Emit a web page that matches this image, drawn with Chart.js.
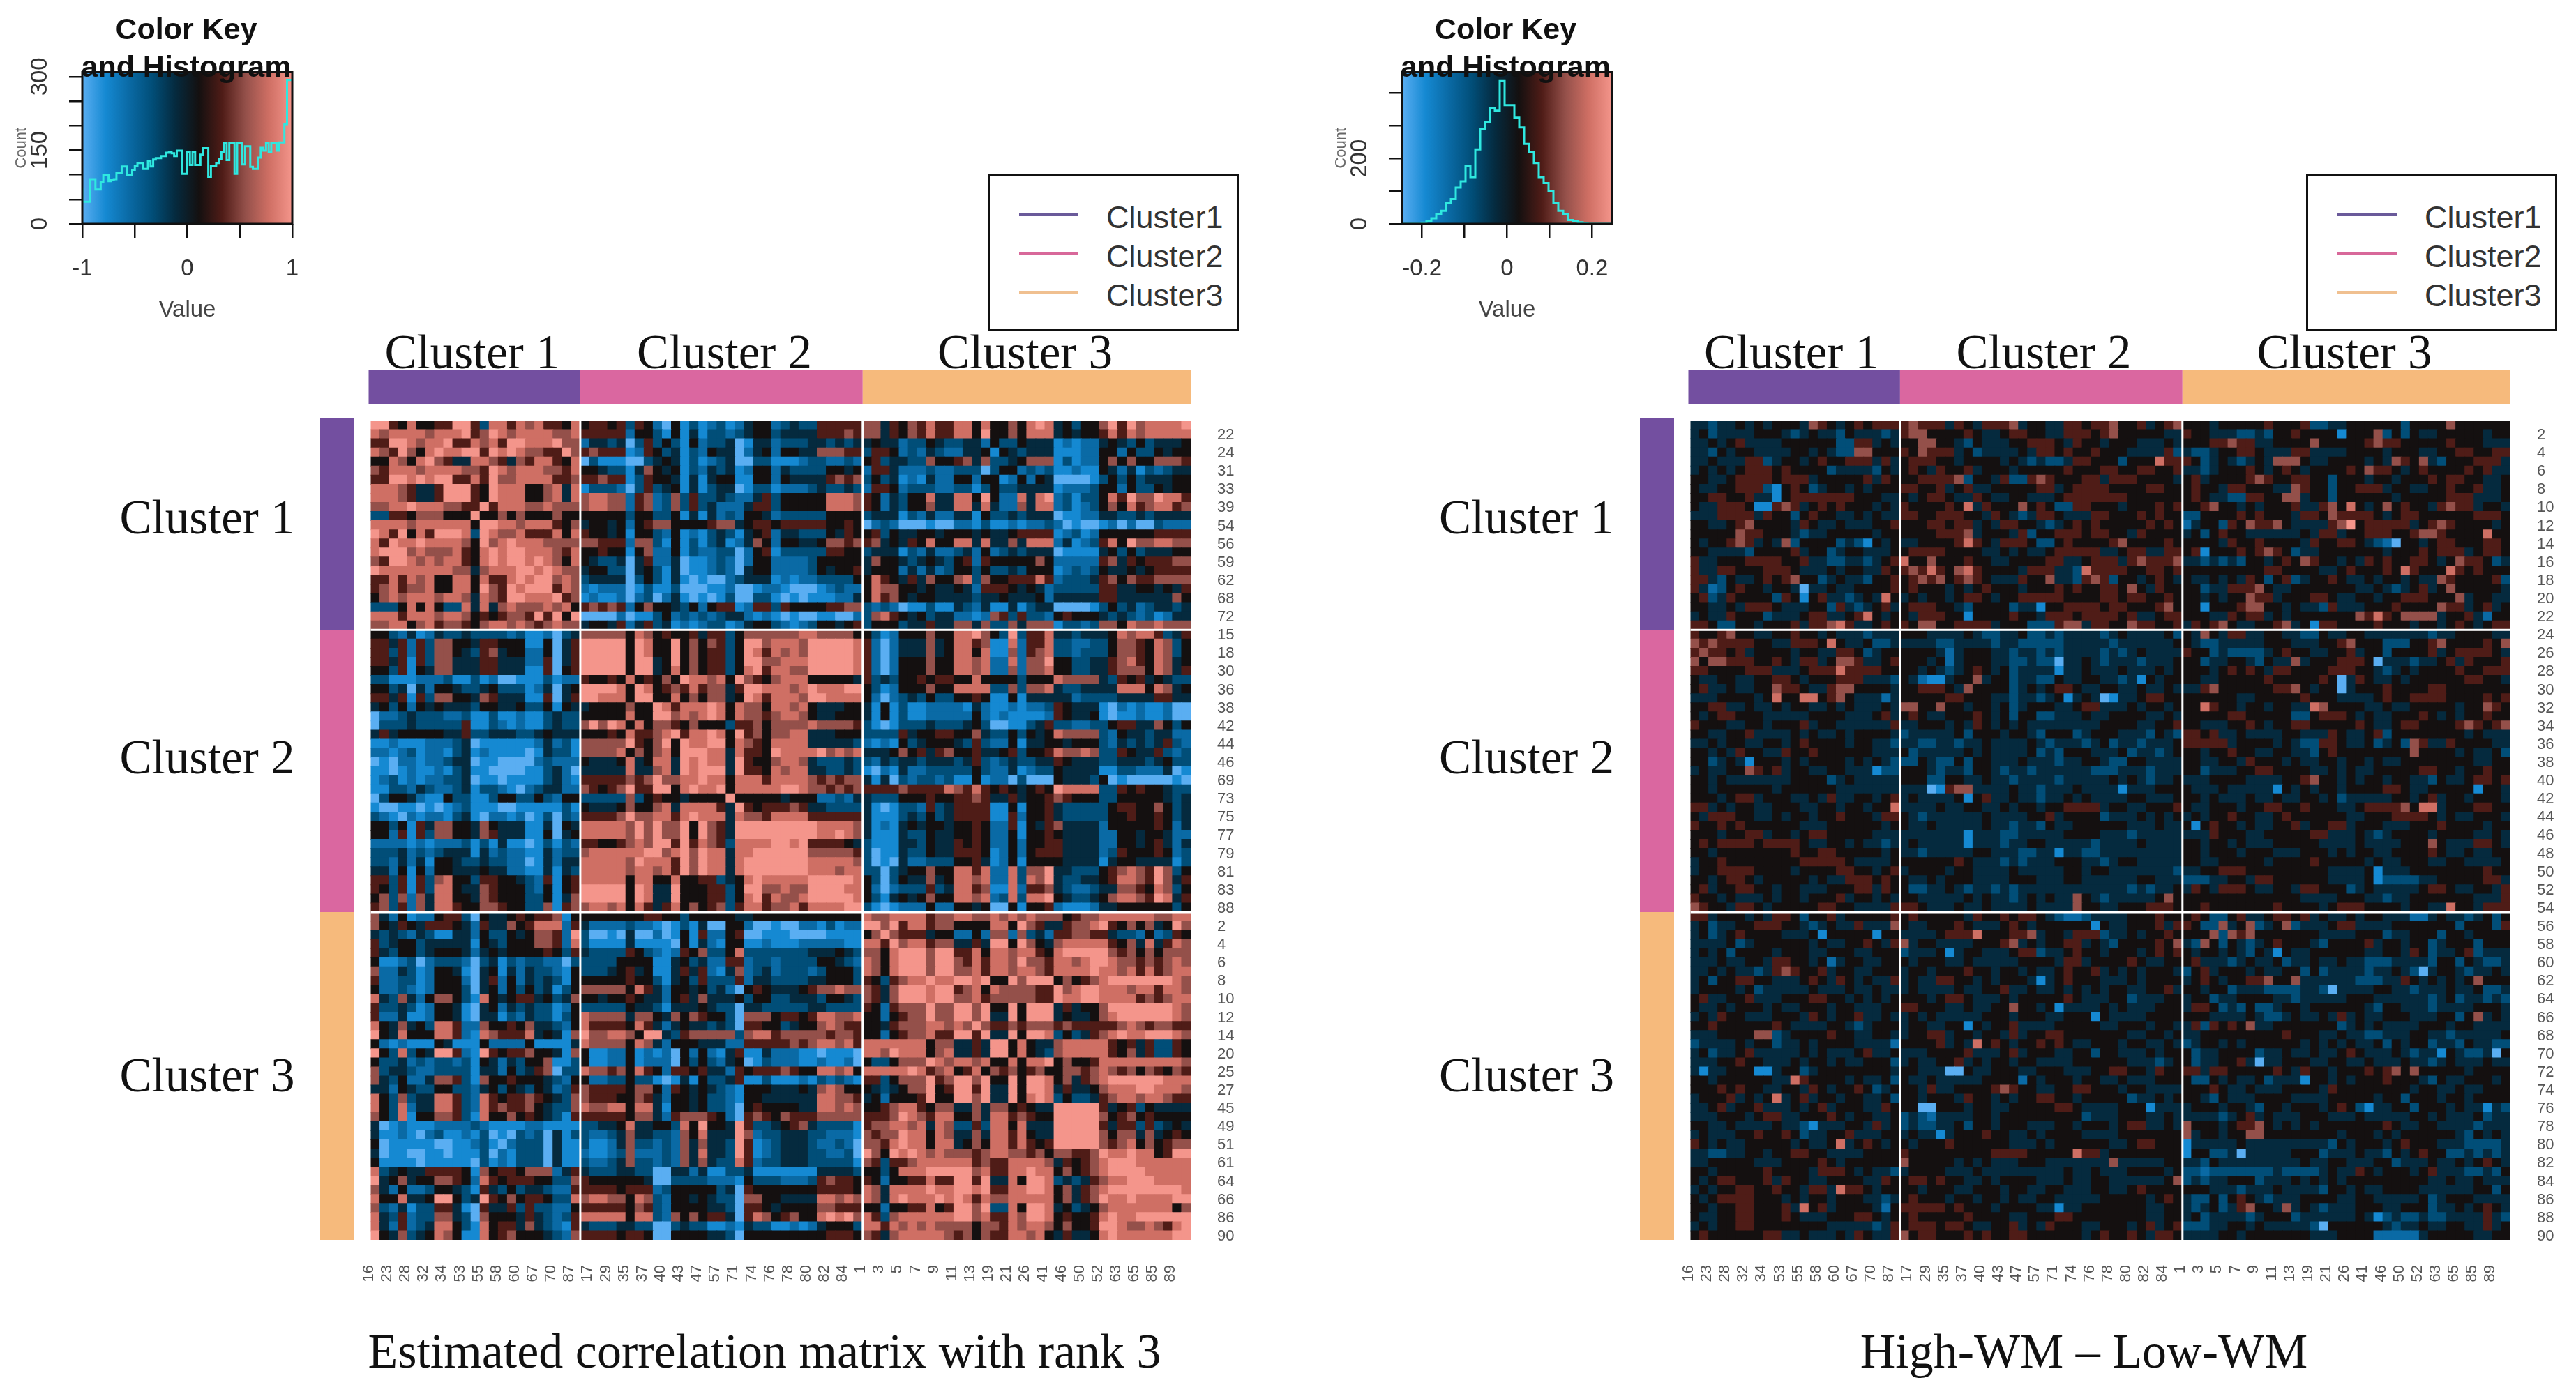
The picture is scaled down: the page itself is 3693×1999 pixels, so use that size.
<!DOCTYPE html>
<html>
<head>
<meta charset="utf-8">
<title>Estimated correlation matrix with rank 3 / High-WM – Low-WM</title>
<script src="https://cdn.jsdelivr.net/npm/chart.js@4"></script>
<style>
html, body { margin: 0; background: #fff; overflow: hidden; }
#page { position: relative; width: 3693px; height: 1999px; }
canvas { position: absolute; filter: blur(0.6px); }
.txt { position: absolute; white-space: nowrap; transform: translate(-50%, -50%); line-height: 1; }
.serif { font-family: "Liberation Serif", serif; color: #111; }
.bold { font-family: "Liberation Sans", sans-serif; font-weight: bold; color: #111; }
.legend { position: absolute; width: 360px; height: 225px; border: 3px solid #111; box-sizing: border-box; }
.legend i { position: absolute; left: 42px; width: 85px; height: 5px; }
.legend span { position: absolute; left: 167px; font: 45px "Liberation Sans", sans-serif; color: #333; line-height: 1; }
</style>
</head>
<body>
<div id="page"></div>
<script>
// cluster sizes and names
const clusterNames = ["Cluster 1", "Cluster 2", "Cluster 3"];
const clusterSizes = [23, 31, 36];
const clusterColors = ["#734fa0", "#da67a0", "#f6ba7c"];
const legendNames = ["Cluster1", "Cluster2", "Cluster3"];
const legendColors = ["#6a5a9a", "#d8689a", "#f0c090"];

// axis labels, every second region gets a label
const colLabels = ["16","23","28","32","34","53","55","58","60","67","70","87","17","29","35","37","40","43","47","57","71","74","76","78","80","82","84","1","3","5","7","9","11","13","19","21","26","41","46","50","52","63","65","85","89"];
const rowLabelsCorr = ["22","24","31","33","39","54","56","59","62","68","72","15","18","30","36","38","42","44","46","69","73","75","77","79","81","83","88","2","4","6","8","10","12","14","20","25","27","45","49","51","61","64","66","86","90"];
const rowLabelsDiff = ["2","4","6","8","10","12","14","16","18","20","22","24","26","28","30","32","34","36","38","40","42","44","46","48","50","52","54","56","58","60","62","64","66","68","70","72","74","76","78","80","82","84","86","88","90"];

// colour levels 0..9 used in the rows below, blue -> black -> salmon
const levelColors = ["#5aaef2","#1589d2","#0a6aa5","#014e78","#052a3e","#141010","#4f1c17","#94504a","#cf6f64","#f4958b"];

// histogram counts
const histCorrCounts = [73,45,45,45,91,91,70,70,85,100,100,87,89,91,104,104,117,117,99,99,110,118,124,124,112,112,127,117,131,134,134,138,138,145,147,144,138,149,149,102,102,147,120,147,120,120,141,154,154,96,118,118,124,133,147,164,130,164,164,102,164,164,121,158,158,116,112,112,135,155,149,164,147,164,164,149,166,166,203,293];
const histDiffCounts = [0,0,0,0,0,4,8,17,30,40,63,76,111,130,177,143,228,291,312,354,346,437,363,363,325,295,245,220,186,143,125,100,65,40,30,12,8,5,2,0,0,0,0];
const keyCorrTicksX = [-1,-0.5,0,0.5,1];
const keyCorrLabelsX = ["-1","","0","","1"];
const keyCorrTicksY = [0,50,100,150,200,250,300];
const keyCorrLabelsY = ["0","","","150","","","300"];
const keyDiffTicksX = [-0.2,-0.1,0,0.1,0.2];
const keyDiffLabelsX = ["-0.2","","0","","0.2"];
const keyDiffTicksY = [0,100,200,300,400];
const keyDiffLabelsY = ["0","","200","",""];

// left matrix, one row per string, blocks split by |
const corrRows = [
"99658556699638868786658|5665636520513123124552343366666|774657686688585575898453557969788889",
"87888878889679878888778|6666625531514133234553444466676|774657686688595575888454556868788888",
"66998788966878699888977|2443403635315233401442333443434|454423354334425335444121224543534445",
"87697589889969898776697|6766612653413254402452554477766|366523243224451543444111225525335455",
"55875897644887647688658|0311100345413123400331112332232|563443375567473345777131225757557776",
"76888788887769878887768|5543314754513243412552433335545|266422232233303552323112115424132344",
"66998989966869778888667|6676613655414145511552544446767|353412142255255125254000013535344455",
"88876446999659888557848|1333203634514134401331222343343|266523332233135334444122235525335455",
"88876446999659888557848|7887726723736334322463555558887|652435584488595228489231335869779886",
"77889888776696888778777|7887726723736342224663555558887|652435574488484227488231235758678867",
"33665777555955757555755|5555535533514142325542333335555|344413242244153343444011224433434444",
"88887888888599887888657|4554525677555567745665666665565|023200010022131121223201001202003222",
"98695869998398778666858|6554515532512134314562443335465|563544554555454456666123125555556666",
"86988988887597898887777|7766627731513134124752554457767|674546585588484474888241236859778877",
"89997877786589899888768|5565515722513223302561333336655|344413242234252343444011114535344455",
"76998787886589899898758|5433404622401123202552222355555|475543454356265555575222226746566677",
"98888888877478889989877|4553304531401123204552222354556|455524242355353343555123235445456666",
"66868785588586689899787|3444403531410100234441212233335|586546475578375566686233346757667777",
"67867785588597698999687|2122201311300011200122100012322|587755454454266654542333336644554546",
"57878887887487699888967|1211202302410101300331010111224|586754554444344544452444446644444475",
"33358585338484787778785|6767625755435256612663655556677|323201131143241141344000013534234434",
"88868887887565677696959|0000201135232323442121010011002|378654534422127636332565554343231244",
"77885786776578878767877|4554624634121233124553212355456|355534464477473374777133237758778777",
"55324124334333323112034|7777758756556466357777778877775|531255575588975393668443444587886346",
"66462637755466555115046|9999959855957576359978887999998|620244474588671182668332233577658735",
"66362637754367455225046|9999959855957566359868787999998|620244474588581172678332333577658735",
"66461637744466444226046|9999959945957566359977888999998|620255575588782282779553344678658745",
"55361547744466444116056|9999959945857566358968877999998|620255575588782272778553344677758746",
"33111222311312001113122|6556585657598878597657888555554|634355656655855553555877774365645433",
"55340425543345333124045|9999859856768677469988878988899|531255575588883373778433444488858745",
"66461637755476444116046|9988859955857577459868887998888|520234353355651151444442333344446644",
"45352545444355445335154|4555575598688898587758878544455|415131122221421121223654441021211200",
"02234333223113112113433|5555585599787898587767887544555|415131122222521211112654451011211200",
"03334333336113212113433|7979858577657555366757777877776|310133343334530011346332233566447535",
"46455555446334443345444|5556586678968898596757788444555|333364556655743353545877773254434422",
"11211122234011111124231|7777796579598899587658888444443|212153455543632251445545553243434632",
"22123122134121111014331|7777857578599988486659888897878|444575646755644563556877873365446323",
"01022122344011000023222|5444584588498988496557887433343|324344344434632343344654443344434533",
"11012112134110000113420|4444484478498999496658788443343|102142233333532241233544441133222401",
"12312122334011011113421|6666676797788988588868888767677|414032332311512203000544435010000010",
"11332432234133210234422|7656796699589889588888998776767|666676666876865654565988883365655433",
"03554211533113553353255|3333373565545555955555455522324|433355565566764464556765553355555434",
"10011010123111001111131|5444575578488886496566676443333|410133263466661151556433333566557534",
"32102122134102212013032|6666797788689888487768888666666|411134353466661162556433333556556534",
"55351647755475444114054|8888879797795976499999999988887|412145455455652261546744442555556524",
"55261637755476444115045|8888879797795976499999999988987|411143354455652251556544442255455422",
"22221212223131411013132|6655678799696876388889989666654|311144354465652252556644442255456424",
"33342323444142322114233|7888888997897988488999999777776|301143354466651252566644442365556523",
"33242415543343322014244|8888879888697988489999999888887|301042233355641251555544441455444413",
"44251525544454422114143|8888878878697988489999999888788|330345575588682283779443335678769735",
"66361637855366554326156|8888858855855663458988888999998|530354474588782283879433445688769746",
"65361638854476555325156|9999959844955566359977877999988|520233363488671182667432234477658735",
"57372748855476555335147|9999959844955566358968778999998|531454575588782383889543345788769846",
"67362748865577655337167|7887858646857567368867786888899|310122252255450051556211124455555535",
"74251225663054456566715|5555555665535555544555555555555|877888867788778787877756778888887788",
"75465466654264475688826|4222232210131400552001002213122|997968867755558859764467789657574597",
"43432431144253354577629|3001040020151622560011100001111|579766645522527727342667766433252365",
"63455344444154355577628|3111141111051421551121112222211|886978867744649959754788888657484687",
"64355345554245455556536|4333365321265733583333333444543|775899979966858878865899999767575777",
"51123023332034132332203|3333555511453422662332333355432|875899979976868879776887899877676787",
"72243125541045142433215|3334564511464621472342333235553|875899979977868878876888898878686788",
"62233125552046252434315|5555565531453633362443333445553|653678898899895597999575678999999987",
"52232125553045253534135|7777758642554534205654445677877|764799989967858777766978998887886887",
"84374257753185456645347|5545565442564744453553344435543|7647 9998 9977 8677 7776 6988 9988 8867 6788",
"63343125541045243433125|3333354431444543304433333443333|6526 7779 7799 7955 9599 9464 5579 9999 9987",
"62241125541044132433135|8777747754757655307775665688778|5525 6779 7799 7944 9599 9454 4578 9999 9987",
"85474538862275565744325|8666658642454434306655345578766|554677788787976676777676666678767766",
"95485558862187666845417|9778875994367777737886777776776|5525 6778 6699 6944 9599 8353 4678 9889 9987",
"52121115411152222511114|8777758742555444226666676788786|8888 8885 7744 6499 5854 4788 8886 5646 3365",
"95383549962196566755417|5112251212052521461142221101110|8879 8885 7844 6499 5854 3788 8886 5746 3365",
"53342323323154243557113|5112251222053532450132221121120|5335 7779 8788 7855 8588 9575 5688 8888 8887",
"73443223333144253467033|8776758652665644265666765588785|8888 8986 7856 8576 7567 5577 6787 6757 6576",
"74352247763175565554325|5223353310141533461131112132321|6635 7779 6799 7955 9599 8574 6789 9999 9888",
"44254335533245354354236|7666657752654543215554445478755|5434 5779 5699 6944 9599 8464 4578 8899 8887",
"85373448863286566765437|7666557642554533215544444488776|4525 5569 5599 7944 9589 8353 3467 8878 8766",
"85382448863286766754337|8778858841554533205655554488787|5567 8865 7744 7477 5654 4999 9964 5635 4444",
"75381557763185575654316|6666657742677765206765766677777|6667 9876 8855 7488 6765 5999 9975 6756 5555",
"40121112222321111221111|3344584455385955496334567433331|6778 8784 8733 6388 5844 4999 9964 6636 3454",
"41121023112130103230413|3223474433275844497233444332221|7677 9885 8744 7488 6854 4999 9975 7747 4565",
"50111110011231023330411|3112473323274744396123444322320|7768 9885 8845 7588 6865 6999 9976 7857 5677",
"40110011011130213330411|2112372223274844396123444332230|9759 8987 8777 6788 7767 5776 6798 8988 5699",
"51111011111031213330411|3223473323274743386233444333331|7636 6788 8888 6766 8888 7465 6789 9988 8888",
"83454466665175665777246|4333443300442411334111111144443|5535 8889 9999 7866 8898 8575 6789 9998 8888",
"94574557765286566655337|6555555400333322215333222367665|6525 5668 6699 6944 8599 8343 4678 8999 8888",
"74252235543164353443226|6666566623555553406555555566665|8748 8889 8899 8966 8899 8574 6789 9999 9998",
"85584459953496575665338|7887758732554543307755444488787|8748 9888 9898 6877 8888 8574 6798 8988 8899",
"73241336641064463633225|6666657632555544306654555577666|5525 5668 5699 7933 8599 8453 4578 8888 8857",
"84362337743075554643236|8888858832757566406875675589897|8637 8888 8899 7866 8799 8565 5689 8899 9999",
"84262348853185664743216|4333443300343311214331121245553|8868 7878 7777 5776 8788 7575 5699 8778 7689",
"95473458751185675554327|6666566500555544305555555556665|7647 8888 8767 5766 8878 5464 4589 8888 8899"
];

// right matrix, same layout, mostly noise around zero with a few strong cells
const diffRows = [
"44344 54545 55476 54565 666|67666 46546 66745 54466 56675 56456 7|55545 55556 55563 34455 55553 55557 55555 5",
"45344 44555 43454 43544 434|67755 55654 45665 54466 65675 55554 4|65544 43343 55655 55155 57353 54455 55545 5",
"44545 64444 55555 53366 454|55775 54354 44556 66546 55455 54445 4|55566 76644 55557 55555 67665 55556 55544 4",
"44354 55444 45545 43377 555|65766 64534 44454 66565 56555 44446 3|43345 56654 44664 44455 55455 54455 66556 6",
"44544 46634 55456 55666 464|56665 54555 54543 43346 65553 55586 6|65345 43454 77754 45555 45476 57435 55666 4",
"45454 56665 65555 34444 354|56546 55645 55455 55565 55665 56655 6|44345 55654 56545 55565 76654 56555 56564 4",
"55445 66665 66645 55556 465|55666 67355 46336 76555 66466 65555 4|56455 55676 55665 53555 45545 55656 65544 5",
"54455 66631 56534 55454 555|66556 45644 55555 66456 66655 55665 5|56554 66555 44765 53556 66455 44556 55644 5",
"55665 56441 56666 66655 544|54566 54465 44554 44566 66666 55555 5|56544 33665 57745 53555 55545 55556 66444 5",
"54466 65116 76456 56555 454|65555 65846 55575 65336 65554 55565 6|55675 54545 55644 67585 45756 55467 66455 4",
"44466 66465 53565 54454 544|66556 66554 65434 66544 46655 56565 5|33555 56565 55466 57666 65456 65555 55666 5",
"55445 67555 54654 45444 556|55566 56645 46655 43456 56555 55656 5|24553 65766 75444 46795 66666 45676 55554 5",
"55555 76655 54344 55555 455|55556 66745 55463 55666 56655 46555 5|45356 55444 44454 66455 66655 67765 55585 5",
"54556 76454 73555 53431 545|44555 56865 46665 33565 55567 55556 5|55554 65565 55546 55665 43205 54566 55566 5",
"55444 43555 56455 34554 445|56666 55554 45454 45666 66445 66446 6|56155 56567 65344 55555 55455 56566 64566 5",
"64455 56666 55644 33443 456|85575 55655 44555 56644 56664 67666 7|44343 43554 56576 55454 65655 66545 76653 4",
"64466 55566 65444 54554 465|67686 57865 55546 66443 86666 55665 6|55555 55556 65555 44565 55658 65558 65655 5",
"66435 44565 67553 45443 556|56767 56765 44465 57443 67635 54565 4|54454 54653 56345 56544 54554 54476 55556 3",
"64235 65545 54044 54455 556|56555 45456 55545 55656 55665 75465 5|55344 66675 44555 55554 45434 56457 55555 4",
"56346 55553 65156 44345 485|45455 45665 45566 66655 55665 66556 5|55454 55766 45556 65445 54556 66555 74554 4",
"55445 46665 44455 36434 564|56665 54355 55344 15566 66566 55567 5|55155 56775 54544 36444 55565 55576 64564 5",
"45446 55534 44566 44568 545|54666 55155 55655 46665 66665 64456 6|55544 65664 54555 55557 68657 77745 56425 5",
"66533 55455 56466 78644 565|65775 56666 45553 33677 46655 76655 6|46567 54455 67451 66555 56555 45545 65456 6",
"65567 55445 56554 54443 444|55544 44543 34453 34344 44345 44445 3|54754 66445 54433 54455 44444 44344 55554 4",
"76766 66554 46665 85445 334|44443 34444 34433 33344 44434 44444 5|54334 44445 55444 55675 55333 55675 55565 7",
"67665 64555 54554 46653 455|55554 24555 44344 34344 44343 45444 4|65534 33334 56554 45564 55355 55645 66665 4",
"75776 66556 54664 57764 456|55545 24555 44334 33044 54344 43444 5|55344 55435 44745 55666 50444 34456 46555 6",
"66555 56664 44566 68666 655|55454 34565 45344 44144 54445 44454 5|55545 65654 66555 56665 54345 45555 65566 6",
"54455 44556 65455 56664 443|54211 45574 55344 33544 55443 41545 5|55445 55556 55555 65046 54454 55555 56655 4",
"56445 44557 66544 67755 554|55666 54755 55345 45665 44554 45445 4|44675 55555 66754 55045 55655 55665 55555 5",
"44455 55458 55885 67544 424|55555 66555 44344 34514 54014 45665 5|55555 54455 55565 55444 45655 66665 55565 6",
"55664 45445 45544 54544 454|77557 55455 45345 55445 66444 54554 5|55865 54554 55448 75555 44544 55555 45576 5",
"54566 55544 44455 55444 564|56544 55565 45355 33444 54455 55445 4|55555 66555 55335 66654 54455 56545 45565 5",
"65554 45545 55645 54444 446|44555 45465 45454 44444 44555 54455 6|55444 55654 55665 55556 54456 65555 67656 7",
"55445 56444 45454 45455 554|34444 45355 54554 35553 45554 44354 3|66564 45444 45544 46544 56355 55555 54544 4",
"44545 54455 45655 55455 443|44334 43445 44445 43444 34534 43444 5|66666 45555 45433 66544 53453 76446 55554 4",
"55454 65544 65565 55555 444|53444 44545 44445 34355 54445 34434 5|55455 65544 55443 56555 55555 75555 45445 3",
"55345 41555 45455 55454 543|33543 35355 44454 44344 55433 55444 4|55445 54655 54544 55455 45445 55555 55445 5",
"45445 57656 45544 55444 133|55543 44355 43443 44444 43334 44344 4|55344 45566 55554 45454 45555 56655 45565 5",
"55454 44444 45555 34544 444|55533 55445 44344 44344 44454 54344 5|44455 55444 45567 55454 55455 44354 45665 6",
"55455 55554 55555 54444 444|44401 67744 44544 34445 44441 44455 5|54445 44444 15454 55455 55665 44555 55155 4",
"55545 66455 54454 64455 456|45444 45156 44544 34454 54444 55444 5|55454 44544 54455 45344 44455 45645 54555 4",
"66454 55445 55445 54554 558|44445 44554 45455 45566 66455 44555 6|54455 54556 65565 55445 66667 58845 55665 5",
"54666 55445 45545 56555 466|54344 44445 44445 56455 55344 45454 5|45455 65544 56555 55544 55566 66545 44555 4",
"65565 65555 55444 55555 545|54454 44445 44344 35445 55555 44454 4|51565 54544 55645 56645 55444 55565 55545 5",
"55545 56645 54566 55555 444|44444 44144 43344 44455 55444 34444 4|44465 55445 55556 64445 43455 55455 55445 4",
"56566 66566 66544 55454 434|45444 44144 43445 54444 43444 45444 4|55455 45444 55555 44445 44445 55754 44665 4",
"55455 55555 56556 65555 545|44344 44455 44433 44144 33444 44444 4|55455 54555 44455 54545 54455 55654 45445 5",
"45565 55555 55666 66544 445|55555 56544 43434 44555 44345 54444 4|55445 55554 55556 55555 45445 55445 54444 5",
"45566 66555 54555 56655 456|45555 45544 44544 44455 45544 44444 3|44556 66555 55555 54444 51444 55555 55565 5",
"55456 65455 55545 44666 565|54454 55544 44555 44455 44444 45544 4|33344 55466 55555 54444 51333 34455 55566 4",
"56455 66554 55444 55566 465|53344 54344 34344 44444 44444 34344 5|46546 66544 55466 55534 54444 45665 44554 6",
"65545 44454 55455 56455 454|55444 44545 44345 45447 54344 44457 5|55555 55555 55544 44555 44344 55555 55444 6",
"76554 66545 55556 65544 446|66544 45445 44445 44447 55445 55666 5|55655 55555 65555 45666 55554 55448 55466 6",
"66455 54546 65355 64555 556|56555 55465 56566 54322 34444 55565 5|56533 56445 66564 54454 55444 22454 43453 5",
"45344 55666 55434 54464 447|54455 56544 45654 55555 51544 55564 6|65337 45734 57344 45664 44455 55555 35553 6",
"45345 65555 44451 55555 155|44445 66685 55667 45546 66344 54556 5|55573 76755 55555 44445 55344 55535 54555 5",
"44445 34555 55545 44556 546|74554 44455 56745 45566 45435 55565 7|43753 54345 65554 35555 64554 55345 55355 5",
"45453 55554 55544 55544 555|34445 14554 44566 34456 55455 54565 6|54554 54354 15445 55555 44554 65344 56344 4",
"44454 45546 65545 24554 455|54555 44544 44455 55466 45555 65445 5|56444 34544 53445 44544 33344 44355 35433 4",
"44545 44346 76556 45544 555|45545 55655 45545 44565 56454 54555 4|35645 55454 45535 34444 34454 30455 43445 4",
"45355 66554 44565 46545 446|45446 65545 45554 14565 55444 54555 5|45654 55667 55744 44443 33446 54545 45755 5",
"45555 45344 44454 44544 544|45444 45445 56445 44545 45455 44556 4|55455 34443 33344 30444 45544 34445 44533 4",
"56445 56444 55566 55454 545|55545 66544 45455 55565 44455 34445 5|45534 45555 44344 44455 54444 44345 34434 3",
"54454 55545 44555 45544 455|66555 44544 55755 45144 44545 44455 5|46653 43533 45545 55555 43554 44344 44555 4",
"45465 54445 55465 45564 454|45454 44445 55455 54455 51544 44555 5|55544 44543 34544 54645 44555 44455 35745 4",
"55655 55556 54444 55434 555|45544 55154 55644 44555 55445 55455 4|46365 65744 55555 55345 45444 45554 55444 4",
"44455 55773 45555 65544 554|45566 45545 54645 56655 55555 44554 5|44555 55555 56555 44544 33444 55443 44444 5",
"34444 54553 44545 55544 442|55556 45485 65455 65654 45554 55445 4|34554 54555 55545 45454 45354 55344 35443 3",
"45344 56444 44545 44456 445|44455 55644 45645 55445 53554 44545 5|53445 55534 45445 44565 44454 34415 43340 5",
"44455 65544 45455 45445 553|45445 56454 55455 44445 55555 44434 5|53445 56404 45554 45544 54445 44345 44454 4",
"41445 55114 55345 55555 554|55444 00544 55544 55544 45566 55465 5|66466 55555 65465 54555 65675 75555 54555 5",
"55455 55554 48655 55454 453|54454 44445 55525 45554 55445 44455 5|53354 54453 44415 54545 55655 54354 45554 5",
"55565 65544 55465 45565 345|55464 45555 67655 44556 65554 55444 4|55565 44544 45555 46555 55555 45544 54455 5",
"45556 45458 45645 54554 453|55455 54655 45455 66554 55555 34454 5|55435 44455 55444 45555 54553 55545 54555 5",
"44564 55644 45456 45554 465|55005 55455 44555 55665 44445 55144 4|45554 55435 54555 45653 14455 35554 54414 3",
"44455 54566 44555 65455 445|34324 44455 45555 55555 34445 55445 4|44443 45645 44455 54445 44444 55454 44534 4",
"55445 44445 44314 44554 645|34334 45355 45554 44554 55545 66445 4|75554 56675 45454 55555 55654 45544 44344 4",
"45444 55655 65344 55644 455|45441 45556 55445 45555 44445 55555 5|74554 55775 55555 55455 54545 55555 43545 4",
"65454 45555 54544 58456 545|54555 65555 55444 54555 55544 56655 5|14444 45444 44444 43545 55456 55544 43333 4",
"44334 45545 56655 44445 555|65555 55555 66665 55558 66455 55555 5|15533 40444 44555 34445 44354 56553 34343 4",
"44555 55444 55556 54555 555|75555 54545 44455 54444 44474 44445 5|44354 44444 44454 45544 45534 44544 54565 4",
"55455 55565 55546 66545 443|45555 44454 44444 44454 45444 55554 5|33233 33333 43333 45446 54555 45644 43343 5",
"54566 55564 65544 55554 465|56656 55445 45555 44454 45544 44445 7|34344 55534 44545 45455 55555 55445 44544 4",
"45455 66556 55466 48665 455|55455 54455 54554 45544 45544 56555 5|55544 43444 54444 35545 44555 54444 44553 5",
"54566 66555 45455 45554 434|56555 45545 54544 55444 44555 55456 5|43353 56543 44455 55445 54444 45345 55444 4",
"55455 66555 64856 45555 425|66666 56555 45555 44144 55555 55445 5|43453 46755 47454 34445 55445 55344 54565 4",
"54455 66555 65444 55566 545|56555 55655 55445 55665 55555 55445 5|45344 44345 55344 44445 41343 34334 44464 3",
"45455 66555 55555 44444 346|56665 66544 55645 46555 44555 45645 6|33344 55454 44443 05555 55434 45445 54464 5",
"56555 55566 44544 45465 446|75665 55656 55665 55555 45655 65466 5|44445 54555 55554 44555 52222 24555 55445 5"
];

const SANS = '"Liberation Sans", sans-serif';
const page = document.getElementById("page");

function addCanvas(left, top, width, height) {
    const c = document.createElement("canvas");
    c.width = width;
    c.height = height;
    c.style.left = left + "px";
    c.style.top = top + "px";
    page.appendChild(c);
    return c;
}

function addText(cls, text, x, y, size) {
    const d = document.createElement("div");
    d.className = "txt " + cls;
    d.style.left = x + "px";
    d.style.top = y + "px";
    d.style.fontSize = size + "px";
    d.textContent = text;
    page.appendChild(d);
}

// row string -> level digits, each block forced to its cluster size
function parseRow(row) {
    const parts = row.replace(/ /g, "").split("|");
    let out = "";
    parts.forEach((p, i) => { out += p.padEnd(clusterSizes[i], "5").slice(0, clusterSizes[i]); });
    return out;
}

// strips and white separators, placed from the chart's own scales
const clusterPlugin = {
    id: "clusterPlugin",
    afterDatasetsDraw(chart) {
        const { ctx, scales, chartArea } = chart;
        const x = scales.x, y = scales.y;
        const o = chart.config.options.clusterStrip;
        let start = 0;
        ctx.save();
        clusterSizes.forEach((size, i) => {
            const end = start + size;
            ctx.fillStyle = clusterColors[i];
            const x0 = x.getPixelForValue(start), x1 = x.getPixelForValue(end);
            const y0 = y.getPixelForValue(start), y1 = y.getPixelForValue(end);
            ctx.fillRect(i === 0 ? x0 - 3 : x0, o.topY, x1 - x0 + (i === 0 ? 3 : 0), o.topH);
            ctx.fillRect(o.leftX, i === 0 ? y0 - 3 : y0, o.leftW, y1 - y0 + (i === 0 ? 3 : 0));
            if (i < clusterSizes.length - 1) {
                ctx.fillStyle = "#fff";
                ctx.fillRect(x1 - 1.5, chartArea.top, 3, chartArea.bottom - chartArea.top);
                ctx.fillRect(chartArea.left, y1 - 1.5, chartArea.right - chartArea.left, 3);
            }
            start = end;
        });
        ctx.restore();
    }
};

function drawHeatmap(left, top, rows, rowLabels) {
    const cells = [], colors = [];
    rows.map(parseRow).forEach((row, r) => {
        for (let c = 0; c < row.length; c++) {
            cells.push({ x: c + 0.5, y: [r, r + 1] });
            colors.push(levelColors[+row[c]]);
        }
    });
    const canvas = addCanvas(left, top, 1337, 1348);
    new Chart(canvas, {
        type: "bar",
        data: { datasets: [{ data: cells, backgroundColor: colors, barPercentage: 1, categoryPercentage: 1, inflateAmount: 0.5 }] },
        options: {
            responsive: false,
            animation: false,
            devicePixelRatio: 1,
            clusterStrip: { topY: 10, topH: 49, leftX: 19, leftW: 49 },
            layout: { padding: { left: 91.5, top: 83 } },
            plugins: { legend: { display: false }, tooltip: { enabled: false } },
            scales: {
                x: {
                    type: "linear", min: 0, max: 90, offset: false,
                    grid: { display: false }, border: { display: false },
                    afterBuildTicks(s) { s.ticks = colLabels.map((l, i) => ({ value: i * 2 - 0.2 })); },
                    afterFit(s) { s.height = 90; },
                    ticks: { autoSkip: false, minRotation: 90, maxRotation: 90, padding: 28, color: "#555", font: { family: SANS, size: 22 }, callback: (v, i) => colLabels[i] }
                },
                y: {
                    type: "linear", min: 0, max: 90, reverse: true, position: "right",
                    grid: { display: false }, border: { display: false },
                    afterBuildTicks(s) { s.ticks = rowLabels.map((l, i) => ({ value: i * 2 + 1.6 })); },
                    afterFit(s) { s.width = 70; },
                    ticks: { autoSkip: false, padding: 30, color: "#555", font: { family: SANS, size: 22 }, callback: (v, i) => rowLabels[i] }
                }
            }
        },
        plugins: [clusterPlugin]
    });
}

// gradient behind the histogram and the frame round it
const keyPlugin = {
    id: "keyPlugin",
    beforeDatasetsDraw(chart) {
        const { ctx, chartArea: a } = chart;
        const g = ctx.createLinearGradient(a.left, 0, a.right, 0);
        levelColors.forEach((col, i) => g.addColorStop(i / (levelColors.length - 1), col));
        ctx.save();
        ctx.fillStyle = g;
        ctx.fillRect(a.left, a.top, a.right - a.left, a.bottom - a.top);
        ctx.restore();
    },
    afterDatasetsDraw(chart) {
        const { ctx, chartArea: a } = chart;
        ctx.save();
        ctx.strokeStyle = "#111";
        ctx.lineWidth = 3;
        ctx.strokeRect(a.left, a.top, a.right - a.left, a.bottom - a.top);
        ctx.restore();
    }
};

function noPad(s) {
    s.paddingTop = 0;
    s.paddingBottom = 0;
    s.paddingLeft = 0;
    s.paddingRight = 0;
}

function drawKey(left, counts, xMin, xMax, yMax, ticksX, labelsX, ticksY, labelsY) {
    const w = (xMax - xMin) / counts.length;
    const points = counts.map((v, i) => ({ x: xMin + i * w, y: v }));
    points.push({ x: xMax, y: counts[counts.length - 1] });
    const canvas = addCanvas(left, 40, 460, 430);
    new Chart(canvas, {
        type: "line",
        data: { datasets: [{ data: points, stepped: "after", borderColor: "#2fe8e0", borderWidth: 3, pointRadius: 0, fill: false }] },
        options: {
            responsive: false,
            animation: false,
            devicePixelRatio: 1,
            layout: { padding: { left: 18, right: 41, top: 63.5 } },
            plugins: { legend: { display: false }, tooltip: { enabled: false } },
            scales: {
                x: {
                    type: "linear", min: xMin, max: xMax,
                    grid: { drawOnChartArea: false, color: "#111", lineWidth: 2.5, tickLength: 21 },
                    border: { display: false },
                    title: { display: true, text: "Value", color: "#444", font: { family: SANS, size: 33 }, padding: { top: 0, bottom: 5 } },
                    afterBuildTicks(s) { s.ticks = ticksX.map(v => ({ value: v })); },
                    afterFit(s) { s.height = 149; noPad(s); },
                    ticks: { autoSkip: false, maxRotation: 0, padding: 24, color: "#333", font: { family: SANS, size: 33 }, callback: (v, i) => labelsX[i] }
                },
                y: {
                    type: "linear", min: 0, max: yMax,
                    grid: { drawOnChartArea: false, color: "#111", lineWidth: 2.5, tickLength: 19 },
                    border: { display: false },
                    title: { display: true, text: "Count", color: "#666", font: { family: SANS, size: 22 }, padding: 0 },
                    afterBuildTicks(s) { s.ticks = ticksY.map(v => ({ value: v })); },
                    afterFit(s) { s.width = 100; noPad(s); },
                    ticks: { autoSkip: false, minRotation: 90, maxRotation: 90, crossAlign: "center", padding: 14, color: "#333", font: { family: SANS, size: 33 }, callback: (v, i) => labelsY[i] }
                }
            }
        },
        plugins: [keyPlugin]
    });
}

function drawLegend(left) {
    const box = document.createElement("div");
    box.className = "legend";
    box.style.left = left + "px";
    box.style.top = "250px";
    legendNames.forEach((name, i) => {
        const line = document.createElement("i");
        line.style.top = (52 + i * 56) + "px";
        line.style.background = legendColors[i];
        box.appendChild(line);
        const lab = document.createElement("span");
        lab.style.top = (36 + i * 56) + "px";
        lab.textContent = name;
        box.appendChild(lab);
    });
    page.appendChild(box);
}

function drawPanelText(dx, caption) {
    addText("bold", "Color Key", 267 + dx, 41, 43);
    addText("bold", "and Histogram", 267 + dx, 95, 43);
    [677, 1038.5, 1469.5].forEach((x, i) => addText("serif", clusterNames[i], x + dx, 505, 69));
    [742, 1086, 1542].forEach((y, i) => addText("serif", clusterNames[i], 297 + dx, y, 69));
    addText("serif", caption, 1096 + dx, 1938, 70);
}

drawKey(0, histCorrCounts, -1, 1, 309, keyCorrTicksX, keyCorrLabelsX, keyCorrTicksY, keyCorrLabelsY);
drawKey(1892, histDiffCounts, -0.247, 0.247, 464, keyDiffTicksX, keyDiffLabelsX, keyDiffTicksY, keyDiffLabelsY);
drawLegend(1416);
drawLegend(3306);
drawHeatmap(440, 520, corrRows, rowLabelsCorr);
drawHeatmap(2331.5, 520, diffRows, rowLabelsDiff);
drawPanelText(0, "Estimated correlation matrix with rank 3");
drawPanelText(1891.5, "High-WM – Low-WM");
</script>
</body>
</html>
